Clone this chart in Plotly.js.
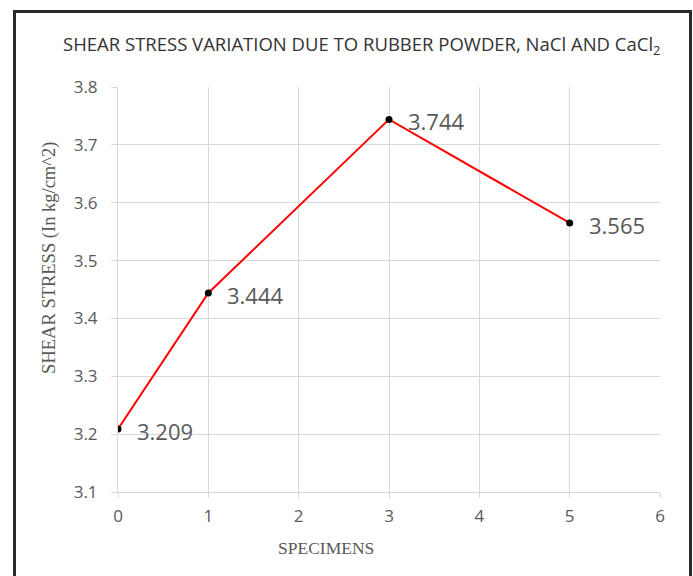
<!DOCTYPE html>
<html>
<head>
<meta charset="utf-8">
<script src="https://cdn.plot.ly/plotly-3.0.1.min.js"></script>
<style>
html,body{margin:0;padding:0;background:#fff;overflow:hidden;width:693px;height:576px;}
#frame{position:absolute;left:13px;top:10px;width:673px;height:600px;border:3px solid #2a2a2a;box-sizing:content-box;pointer-events:none;z-index:5;}
#chart{position:absolute;left:0;top:0;width:693px;height:576px;}
</style>
</head>
<body>
<div id="chart"></div>
<div id="frame"></div>
<script>
var specimens = [0, 1, 3, 5];
var shearStress = [3.209, 3.444, 3.744, 3.565];
var valueLabels = ["3.209", "3.444", "3.744", "3.565"];
var xTicks = [0, 1, 2, 3, 4, 5, 6];
var yTicks = [3.1, 3.2, 3.3, 3.4, 3.5, 3.6, 3.7, 3.8];

var trace = {
  x: specimens,
  y: shearStress,
  mode: 'lines+markers',
  type: 'scatter',
  line: {color: '#ff0000', width: 2},
  marker: {color: '#000000', size: 7},
  hoverinfo: 'skip'
};

var annotations = specimens.map(function(xv, i){
  return {
    x: xv, y: shearStress[i], xref: 'x', yref: 'y',
    text: valueLabels[i], showarrow: false,
    xanchor: 'left', yanchor: 'middle', xshift: 17, yshift: -2,
    font: {family: 'Open Sans, Liberation Sans, sans-serif', size: 22, color: '#595959'}
  };
});

annotations.push({
  x: -0.1255, y: 0.578, xref: 'paper', yref: 'paper',
  text: 'SHEAR STRESS (In kg/cm^2)', showarrow: false, textangle: -90,
  xanchor: 'center', yanchor: 'middle',
  font: {family: 'Liberation Serif, DejaVu Serif, serif', size: 18.5, color: '#595959'}
});
annotations.push({
  x: 0.384, y: -0.138, xref: 'paper', yref: 'paper',
  text: 'SPECIMENS', showarrow: false,
  xanchor: 'center', yanchor: 'middle',
  font: {family: 'Liberation Serif, DejaVu Serif, serif', size: 17.5, color: '#595959'}
});

var layout = {
  width: 693, height: 576,
  margin: {l: 118, r: 33, t: 87, b: 84},
  paper_bgcolor: '#ffffff', plot_bgcolor: '#ffffff',
  showlegend: false,
  title: {
    text: 'SHEAR STRESS VARIATION DUE TO RUBBER POWDER, NaCl AND CaCl<sub>2</sub>',
    font: {family: 'Open Sans, Liberation Sans, sans-serif', size: 18.5, color: '#333333'},
    x: 0.522, xanchor: 'center', xref: 'container', y: 0.922, yanchor: 'middle'
  },
  xaxis: {
    range: [0, 6], tickvals: xTicks, ticktext: xTicks.map(String),
    showgrid: true, gridcolor: '#d9d9d9', gridwidth: 1,
    zeroline: false, showline: true, linecolor: '#d9d9d9', linewidth: 1,
    ticks: 'outside', ticklen: 5, tickcolor: '#d9d9d9', ticklabelstandoff: 4,
    tickfont: {family: 'Open Sans, Liberation Sans, sans-serif', size: 17, color: '#595959'}
  },
  yaxis: {
    range: [3.1, 3.8], tickvals: yTicks, ticktext: yTicks.map(function(v){return v.toFixed(1);}),
    showgrid: true, gridcolor: '#d9d9d9', gridwidth: 1,
    zeroline: false, showline: true, linecolor: '#d9d9d9', linewidth: 1,
    ticks: 'outside', ticklen: 6, tickcolor: '#d9d9d9', ticklabelstandoff: 10,
    tickfont: {family: 'Open Sans, Liberation Sans, sans-serif', size: 17, color: '#595959'}
  },
  annotations: annotations
};

Plotly.newPlot('chart', [trace], layout, {displayModeBar: false, staticPlot: true});
</script>
</body>
</html>
